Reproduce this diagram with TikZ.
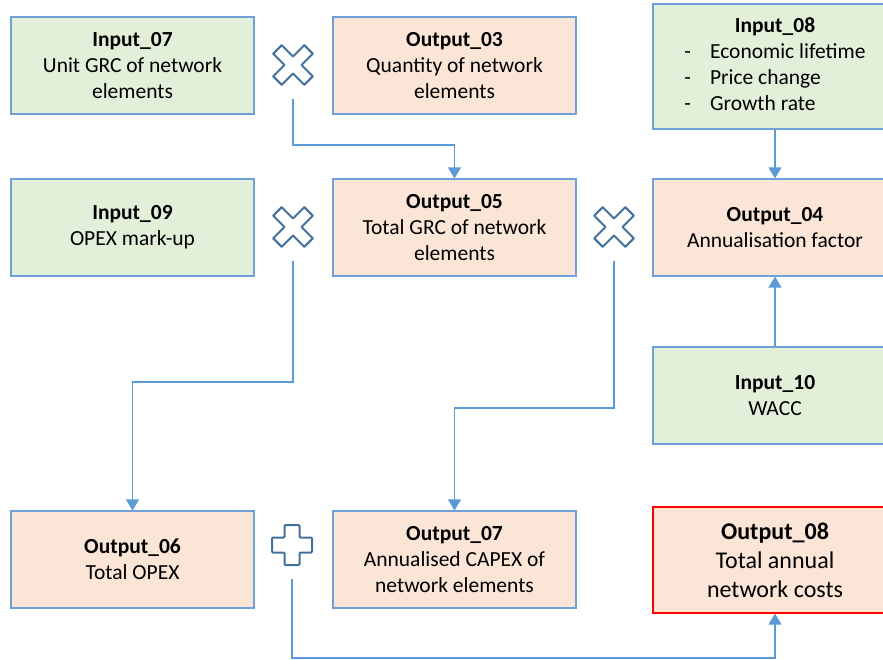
\documentclass[tikz,border=0pt]{standalone}
\usepackage{fontspec}
\setmainfont{Carlito}
\usetikzlibrary{arrows.meta}
\definecolor{gfill}{HTML}{E2F0D9}
\definecolor{ofill}{HTML}{FBE5D6}
\definecolor{bordcol}{HTML}{6FA0D8}
\definecolor{linecol}{HTML}{5B9BD5}
\definecolor{iconcol}{HTML}{41719C}
\definecolor{redcol}{HTML}{FF0000}
\tikzset{
  xicon/.pic={\draw[iconcol, line width=2pt, fill=white, line join=round, rotate=45]
    (-6,-22) -- (6,-22) -- (6,-6) -- (22,-6) -- (22,6) -- (6,6) -- (6,22) -- (-6,22) -- (-6,6) -- (-22,6) -- (-22,-6) -- (-6,-6) -- cycle;},
  picon/.pic={\draw[iconcol, line width=2pt, fill=white, rounded corners=1pt]
    (-7.5,-20) -- (7.5,-20) -- (7.5,-7.5) -- (20,-7.5) -- (20,7.5) -- (7.5,7.5) -- (7.5,20) -- (-7.5,20) -- (-7.5,7.5) -- (-20,7.5) -- (-20,-7.5) -- (-7.5,-7.5) -- cycle;}
}
\begin{document}
\begin{tikzpicture}[x=1pt,y=-1pt,
  box/.style={draw=bordcol, line width=1.2pt, minimum width=243pt, minimum height=97pt,
    align=center, inner sep=0pt, font=\fontsize{21.5}{26}\selectfont},
  inbox/.style={box, fill=gfill},
  outbox/.style={box, fill=ofill},
  rbox/.style={minimum width=244pt},
  conn/.style={draw=linecol, line width=1.3pt, -{Triangle[length=11pt,width=13pt]}},
  hub/.style={minimum width=40pt, minimum height=68pt, inner sep=0pt}
]
\useasboundingbox (0,0) rectangle (883,659);

% boxes
\node[inbox] (i07) at (132.5,65.5) {\textbf{Input\_07}\\Unit GRC of network\\elements};
\node[outbox] (o03) at (454.5,65.5) {\textbf{Output\_03}\\Quantity of network\\elements};
\node[inbox, rbox, minimum height=125pt] (i08) at (775,66.5)
  {\begin{tabular}{@{}l@{\hspace{19pt}}l@{}}\multicolumn{2}{c}{\textbf{Input\_08}}\\
   -&Economic lifetime\\ -&Price change\\ -&Growth rate\end{tabular}};
\node[inbox] (i09) at (132.5,227.5) {\textbf{Input\_09}\\OPEX mark-up};
\node[outbox] (o05) at (454.5,227.5) {\textbf{Output\_05}\\Total GRC of network\\elements};
\node[outbox, rbox] (o04) at (775,227.5) {\textbf{Output\_04}\\Annualisation factor};
\node[inbox, rbox] (i10) at (775,395.5) {\textbf{Input\_10}\\WACC};
\node[outbox] (o06) at (132.5,559.5) {\textbf{Output\_06}\\Total OPEX};
\node[outbox] (o07) at (454.5,559.5) {\textbf{Output\_07}\\Annualised CAPEX of\\network elements};
\node[outbox, rbox, draw=redcol, minimum height=106pt, font=\fontsize{24}{29}\selectfont] (o08) at (775,560)
  {\textbf{Output\_08}\\Total annual\\network costs};

% operator hubs
\node[hub] (x1) at (293,65) {};
\node[hub] (x2) at (293,227) {};
\node[hub] (x3) at (614,227) {};
\node[hub] (p1) at (292,545) {};
\pic at (x1) {xicon};
\pic at (x2) {xicon};
\pic at (x3) {xicon};
\pic at (p1) {picon};

% bend points
\coordinate (b1) at (293,145);
\coordinate (b2) at (293,382);
\coordinate (b3) at (614,408);
\coordinate (b4) at (292,658);

% connectors
\draw[conn] (x1.south) -- (b1) -| (o05.north);
\draw[conn] (x2.south) -- (b2) -| (o06.north);
\draw[conn] (x3.south) -- (b3) -| (o07.north);
\draw[conn] (p1.south) -- (b4) -| (o08.south);
\draw[conn] (i08) -- (o04);
\draw[conn] (i10) -- (o04);
\end{tikzpicture}
\end{document}
